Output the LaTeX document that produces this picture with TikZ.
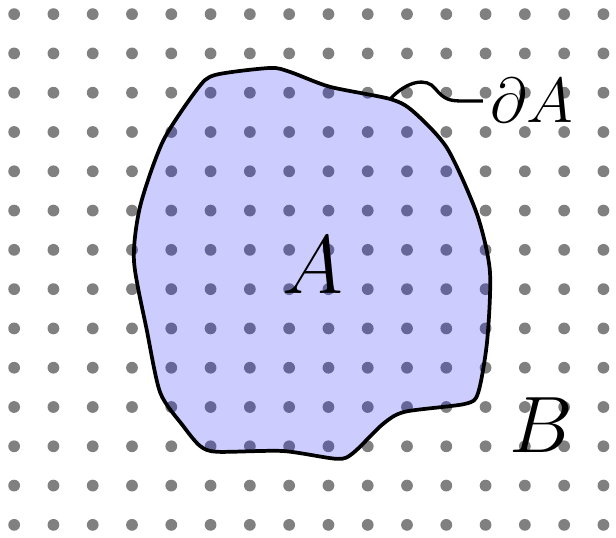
\RequirePackage{fix-cm}
\documentclass[tikz,border=0pt]{standalone}
\usepackage{amsmath,amssymb}
\usepackage{xcolor}
\usetikzlibrary{calc,positioning}
\definecolor{dotgray}{RGB}{128,128,128}

\begin{document}
\begin{tikzpicture}[scale=1.0]

% Helper: dot radius and boundary width
\def\R{0.15}
\def\LW{2.7pt}

\useasboundingbox (-0.36,-0.31) rectangle (15.32,13.36);

% ----- lattice of dots -----
\foreach \i in {0,...,15}
  \foreach \j in {0,...,13}
    \fill[dotgray] (\i,\j) circle (\R);

% ----- region A -----
\draw[line width=\LW, fill=blue, fill opacity=0.2, draw opacity=1]
  plot[smooth cycle, tension=0.45] coordinates {
    (4.66,11.09) (5.11,11.45) (6.51,11.63) (7.02,11.53) (8.04,11.15)
    (9.57,10.84) (10.15,10.53) (11.02,9.59) (11.78,7.91) (12.11,6.46)
    (12.04,4.68) (11.81,3.36) (11.48,3.08) (9.95,2.88) (9.39,2.57)
    (8.63,1.83) (8.22,1.68) (6.84,1.88) (5.17,1.86) (4.73,2.01)
    (4.30,2.52) (3.72,3.36) (3.38,4.94) (3.05,6.72) (3.21,8.12)
    (3.79,9.77)};

% ----- labels -----
\node (lblA) at (7.6,6.6) {\fontsize{60}{60}\selectfont $A$};
\node (lblB) at (13.43,2.55) {\fontsize{58}{58}\selectfont $B$};
\node[anchor=base west, inner sep=5pt] (lblBd) at (11.93,10.23)
  {\fontsize{46}{46}\selectfont $\partial A$};

% ----- connector to boundary -----
\coordinate (bnd) at (9.57,10.84);
\draw[line width=2.4pt] (bnd) .. controls (10.0,11.3) and (10.5,11.4) .. (10.72,11.1)
  .. controls (10.95,10.82) and (11.1,10.79) .. (11.4,10.79) -- (lblBd.west);

\end{tikzpicture}
\end{document}
